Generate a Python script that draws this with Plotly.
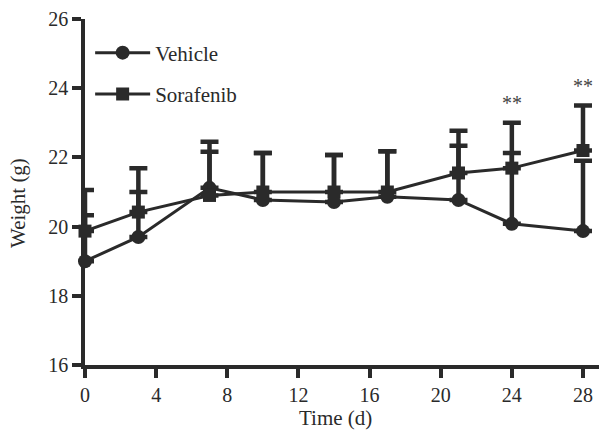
import plotly.graph_objects as go

days = [0, 3, 7, 10, 14, 17, 21, 24, 28]
vehicle_mean = [19.0, 19.7, 21.12, 20.77, 20.71, 20.86, 20.77, 20.08, 19.87]
vehicle_err = [1.33, 1.3, 1.33, 1.36, 1.36, 1.32, 1.57, 2.05, 2.03]
sorafenib_mean = [19.87, 20.42, 20.9, 21.0, 21.0, 21.0, 21.55, 21.69, 22.2]
sorafenib_err = [1.19, 1.27, 1.26, 1.13, 1.07, 1.18, 1.22, 1.31, 1.3]
sig_days = [24, 28]
sig_labels = ["**", "**"]
x_ticks = [0, 4, 8, 12, 16, 20, 24, 28]
y_ticks = [16, 18, 20, 22, 24, 26]

C = "#2a2a2a"
FONT = "Liberation Serif"

fig = go.Figure()
fig.add_trace(go.Scatter(
    x=days, y=vehicle_mean, name="Vehicle", mode="lines+markers",
    line=dict(color=C, width=3), marker=dict(symbol="circle", size=14, color=C),
    error_y=dict(type="data", array=vehicle_err, arrayminus=[0]*len(days), symmetric=False,
                 color=C, thickness=4.5, width=9),
    cliponaxis=False, legendgroup="v",
))
fig.add_trace(go.Scatter(
    x=days, y=sorafenib_mean, name="Sorafenib", mode="lines+markers",
    line=dict(color=C, width=3), marker=dict(symbol="square", size=13, color=C),
    error_y=dict(type="data", array=sorafenib_err, arrayminus=[0]*len(days), symmetric=False,
                 color=C, thickness=4.5, width=9),
    cliponaxis=False, legendgroup="s",
))

for d, lab in zip(sig_days, sig_labels):
    i = days.index(d)
    top = sorafenib_mean[i] + sorafenib_err[i]
    fig.add_annotation(x=d, y=top, text=lab, showarrow=False, yanchor="bottom", yshift=7,
                       font=dict(family=FONT, size=20, color="#444444"))

fig.add_annotation(xref="paper", yref="paper", x=(335-85)/514, y=-(418-365)/346,
                   text="Time (d)", showarrow=False, xanchor="center", yanchor="middle",
                   font=dict(family=FONT, size=21, color=C))
fig.add_annotation(xref="paper", yref="paper", x=-(85-18)/514, y=(365-203)/346,
                   text="Weight (g)", showarrow=False, textangle=-90, xanchor="center", yanchor="middle",
                   font=dict(family=FONT, size=21, color=C))

fig.update_layout(
    width=599, height=432,
    margin=dict(l=85, r=0, t=19, b=67),
    paper_bgcolor="white", plot_bgcolor="white",
    font=dict(family=FONT, size=20, color=C),
    showlegend=True,
    legend=dict(x=0.01, y=0.961, xanchor="left", yanchor="top", bgcolor="rgba(0,0,0,0)",
                font=dict(family=FONT, size=21, color=C), tracegroupgap=11, itemwidth=55),
    xaxis=dict(range=[0, 28.9], tickvals=x_ticks, ticks="outside", ticklen=9, tickwidth=3.5,
               tickcolor=C, showline=True, linecolor=C, linewidth=3.5, showgrid=False,
               zeroline=False, tickfont=dict(family=FONT, size=20, color=C)),
    yaxis=dict(range=[16, 26], tickvals=y_ticks, ticks="outside", ticklen=9, tickwidth=3.5,
               tickcolor=C, showline=True, linecolor=C, linewidth=3.5, showgrid=False,
               zeroline=False, tickfont=dict(family=FONT, size=20, color=C)),
)

fig.write_html("out.html")
